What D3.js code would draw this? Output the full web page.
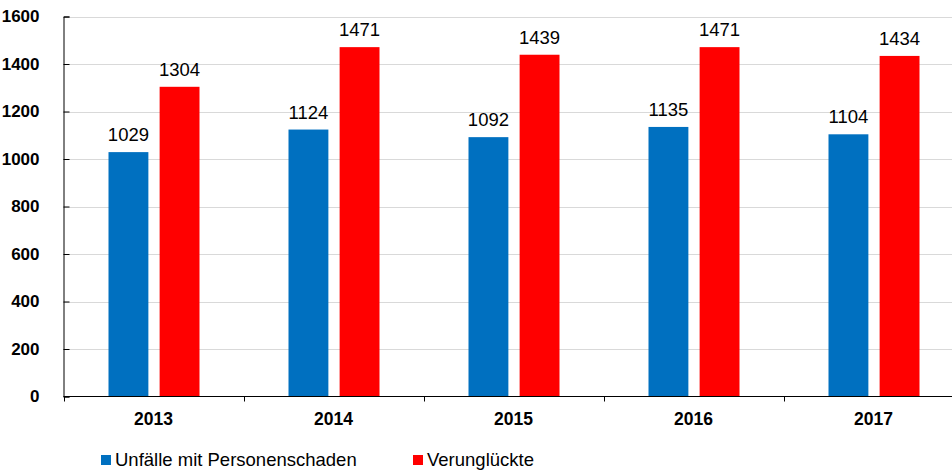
<!DOCTYPE html>
<html>
<head>
<meta charset="utf-8">
<script src="https://cdn.jsdelivr.net/npm/d3@7"></script>
<style>
  body { margin: 0; background: #fff; }
  svg { display: block; font-family: "Liberation Sans", Arial, sans-serif; }
</style>
</head>
<body>
<div id="chart"></div>
<script>
// Data
const years = ["2013", "2014", "2015", "2016", "2017"];
const seriesNames = ["Unfälle mit Personenschaden", "Verunglückte"];
const unfaelle = [1029, 1124, 1092, 1135, 1104];
const verunglueckte = [1304, 1471, 1439, 1471, 1434];
const yTicks = [0, 200, 400, 600, 800, 1000, 1200, 1400, 1600];
const colors = ["#0070C0", "#FF0000"];

const width = 952;
const height = 470;
const plotLeft = 63.5;
const plotTop = 16.5;
const plotBottom = 396.5;

const svg = d3.select("#chart").append("svg")
  .attr("width", width)
  .attr("height", height);

const y = d3.scaleLinear().domain([0, 1600]).range([plotBottom, plotTop]);

// each year band is 180px wide; the last one runs past the right edge
const x0 = d3.scaleBand().domain(years).range([plotLeft, plotLeft + 180 * years.length]);
const x1 = d3.scaleBand().domain(seriesNames).range([45, 136]).paddingInner(0.22);

// gridlines
svg.append("g")
  .selectAll("line")
  .data(yTicks.filter(d => d > 0))
  .join("line")
  .attr("x1", plotLeft)
  .attr("x2", width)
  .attr("y1", d => Math.round(y(d)) + 0.5)
  .attr("y2", d => Math.round(y(d)) + 0.5)
  .attr("stroke", "#d9d9d9")
  .attr("stroke-width", 1);

// bars
const rows = years.map((yr, i) => ({ year: yr, values: [unfaelle[i], verunglueckte[i]] }));

const group = svg.append("g")
  .selectAll("g")
  .data(rows)
  .join("g")
  .attr("transform", d => `translate(${x0(d.year)},0)`);

group.selectAll("rect")
  .data(d => d.values.map((v, k) => ({ name: seriesNames[k], value: v, k })))
  .join("rect")
  .attr("x", d => x1(d.name))
  .attr("y", d => y(d.value))
  .attr("width", x1.bandwidth())
  .attr("height", d => plotBottom - y(d.value))
  .attr("fill", d => colors[d.k]);

// value labels
group.selectAll("text")
  .data(d => d.values.map((v, k) => ({ name: seriesNames[k], value: v })))
  .join("text")
  .attr("x", d => x1(d.name) + x1.bandwidth() / 2)
  .attr("y", d => y(d.value) - 11)
  .attr("text-anchor", "middle")
  .attr("font-size", "18.5px")
  .attr("fill", "#000")
  .text(d => d.value);

// y axis
const yAxis = svg.append("g")
  .attr("transform", `translate(${plotLeft},0)`)
  .call(d3.axisLeft(y).tickValues(yTicks).tickSize(-6).tickPadding(24).tickFormat(d3.format("d")));
yAxis.select(".domain").attr("stroke", "#000");
yAxis.selectAll(".tick line").attr("stroke", "#000");
yAxis.selectAll(".tick text")
  .attr("font-family", "Liberation Sans, Arial, sans-serif")
  .attr("font-size", "17px")
  .attr("font-weight", "bold")
  .attr("fill", "#000");

// x axis
const xAxis = svg.append("g")
  .attr("transform", `translate(0,${plotBottom})`)
  .call(d3.axisBottom(x0).tickSize(0).tickPadding(16));
xAxis.select(".domain").remove();
xAxis.selectAll(".tick text")
  .attr("font-family", "Liberation Sans, Arial, sans-serif")
  .attr("font-size", "17.5px")
  .attr("font-weight", "bold")
  .attr("fill", "#000");

svg.append("line")
  .attr("x1", plotLeft).attr("x2", width)
  .attr("y1", plotBottom).attr("y2", plotBottom)
  .attr("stroke", "#000");

svg.append("g")
  .selectAll("line")
  .data(years)
  .join("line")
  .attr("x1", d => Math.round(x0(d)) + 0.5)
  .attr("x2", d => Math.round(x0(d)) + 0.5)
  .attr("y1", plotBottom)
  .attr("y2", plotBottom + 5)
  .attr("stroke", "#000");

// legend
const legendX = [101, 413];
const legend = svg.append("g")
  .selectAll("g")
  .data(seriesNames)
  .join("g")
  .attr("transform", (d, i) => `translate(${legendX[i]},455)`);

legend.append("rect")
  .attr("width", 10)
  .attr("height", 10)
  .attr("fill", (d, i) => colors[i]);

legend.append("text")
  .attr("x", 14)
  .attr("y", 11)
  .attr("font-size", "18.5px")
  .attr("fill", "#000")
  .text(d => d);
</script>
</body>
</html>
